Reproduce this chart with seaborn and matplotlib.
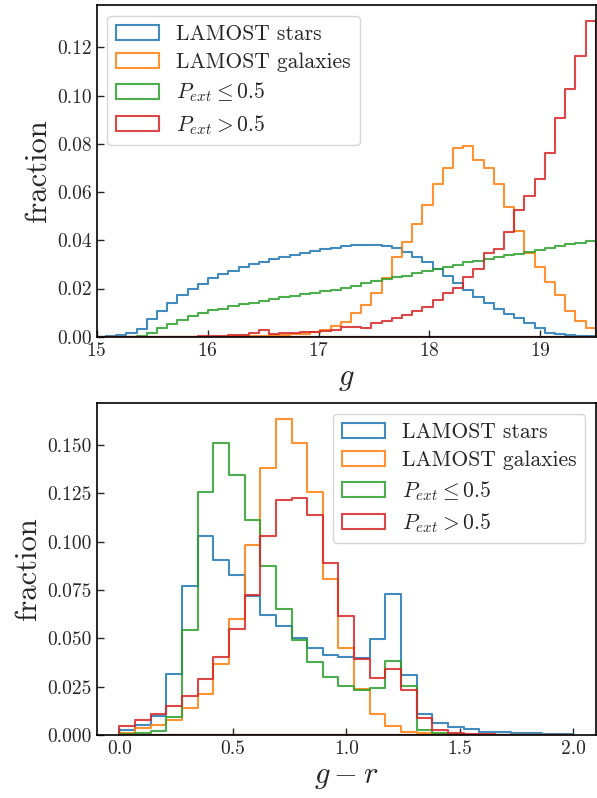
import numpy as np
import pandas as pd
import matplotlib
matplotlib.use("Agg")
import matplotlib.pyplot as plt
from matplotlib.patches import Patch
from matplotlib.colors import to_rgba
import seaborn as sns

# ---------------- data ----------------
# top panel: g magnitude, 50 bins between 14.9 and 19.5
g_edges_range = (14.9, 19.5)
g_nbins = 50
g_stars = [0.0001, 0.0001, 0.0003, 0.0007, 0.0014, 0.0032, 0.0072, 0.0105, 0.0139, 0.0172,
           0.0196, 0.0219, 0.0242, 0.0259, 0.0274, 0.0288, 0.0300, 0.0311, 0.0321, 0.0332,
           0.0340, 0.0348, 0.0356, 0.0363, 0.0369, 0.0376, 0.0379, 0.0379, 0.0379, 0.0376,
           0.0366, 0.0353, 0.0332, 0.0311, 0.0280, 0.0252, 0.0224, 0.0194, 0.0166, 0.0138,
           0.0117, 0.0094, 0.0076, 0.0055, 0.0035, 0.0017, 0.0010, 0.0006, 0.0005, 0.0003]
g_gal = [0.0, 0.0, 0.0, 0.0, 0.0, 0.0, 0.0, 0.0, 0.0, 0.0,
         0.0, 0.0, 0.0, 0.0001, 0.0002, 0.0003, 0.0004, 0.0005, 0.0006, 0.0008,
         0.0010, 0.0013, 0.0020, 0.0030, 0.0043, 0.0062, 0.0097, 0.0131, 0.0180, 0.0242,
         0.0332, 0.0394, 0.0466, 0.0546, 0.0633, 0.0698, 0.0784, 0.0792, 0.0733, 0.0698,
         0.0633, 0.0536, 0.0440, 0.0346, 0.0290, 0.0228, 0.0173, 0.0108, 0.0066, 0.0035]
g_pext_lo = [0.0, 0.0, 0.0, 0.0, 0.0, 0.0003, 0.0014, 0.0035, 0.0053, 0.0070,
             0.0085, 0.0097, 0.0110, 0.0117, 0.0127, 0.0135, 0.0142, 0.0149, 0.0157, 0.0164,
             0.0170, 0.0176, 0.0182, 0.0188, 0.0195, 0.0202, 0.0212, 0.0221, 0.0231, 0.0239,
             0.0246, 0.0253, 0.0263, 0.0272, 0.0281, 0.0290, 0.0297, 0.0308, 0.0315, 0.0323,
             0.0330, 0.0337, 0.0343, 0.0350, 0.0359, 0.0368, 0.0376, 0.0383, 0.0390, 0.0395]
g_pext_hi = [0.0, 0.0, 0.0, 0.0, 0.0, 0.0, 0.0, 0.0, 0.0, 0.0,
             0.0001, 0.0002, 0.0003, 0.0004, 0.0006, 0.0008, 0.0015, 0.0027, 0.0012, 0.0015,
             0.0017, 0.0020, 0.0021, 0.0022, 0.0027, 0.0041, 0.0041, 0.0038, 0.0058, 0.0065,
             0.0079, 0.0090, 0.0108, 0.0124, 0.0152, 0.0180, 0.0204, 0.0249, 0.0283, 0.0346,
             0.0362, 0.0435, 0.0525, 0.0583, 0.0655, 0.0760, 0.0905, 0.1026, 0.1164, 0.1310]

# bottom panel: g - r colour, 29 bins between 0 and 2
gr_edges_range = (0.0, 2.0)
gr_nbins = 29
gr_stars = [0.0026, 0.0052, 0.0100, 0.0316, 0.0769, 0.1028, 0.0907, 0.0826, 0.0721, 0.0622,
            0.0562, 0.0501, 0.0449, 0.0415, 0.0401, 0.0400, 0.0497, 0.0730, 0.0311, 0.0109,
            0.0064, 0.0043, 0.0029, 0.0018, 0.0014, 0.0010, 0.0009, 0.0007, 0.0006]
gr_gal = [0.0012, 0.0035, 0.0052, 0.0078, 0.0138, 0.0213, 0.0366, 0.0601, 0.0982, 0.1379,
          0.1633, 0.1507, 0.1258, 0.0804, 0.0449, 0.0237, 0.0109, 0.0047, 0.0017, 0.0009,
          0.0005, 0.0002, 0.0002, 0.0001, 0.0001, 0.0001, 0.0, 0.0, 0.0]
gr_pext_lo = [0.0005, 0.0012, 0.0019, 0.0095, 0.0541, 0.1256, 0.1507, 0.1346, 0.1111, 0.0873,
              0.0653, 0.0493, 0.0380, 0.0302, 0.0256, 0.0233, 0.0245, 0.0384, 0.0251, 0.0026,
              0.0009, 0.0003, 0.0001, 0.0001, 0.0, 0.0, 0.0, 0.0, 0.0]
gr_pext_hi = [0.0047, 0.0078, 0.0109, 0.0150, 0.0202, 0.0290, 0.0403, 0.0550, 0.0726, 0.1028,
              0.1215, 0.1224, 0.1135, 0.0890, 0.0617, 0.0394, 0.0294, 0.0342, 0.0233, 0.0086,
              0.0026, 0.0009, 0.0005, 0.0003, 0.0002, 0.0001, 0.0001, 0.0, 0.0]

labels = ["LAMOST stars", "LAMOST galaxies", r"$P_{ext} \leq 0.5$", r"$P_{ext} > 0.5$"]
colors = ["#1f77b4", "#ff7f0e", "#2ca02c", "#d62728"]

# ---------------- style ----------------
sns.set_style("ticks")
plt.rcParams.update({
    "font.family": ["serif"],
    "font.serif": ["cmr10", "DejaVu Serif"],
    "mathtext.fontset": "cm",
    "axes.formatter.use_mathtext": True,
    "axes.unicode_minus": False,
    "xtick.direction": "in",
    "ytick.direction": "in",
    "axes.linewidth": 1.2,
    "axes.edgecolor": "black",
})

ALPHA = 0.85


def draw_panel(ax, rng, nbins, series):
    edges = np.linspace(rng[0], rng[1], nbins + 1)
    centers = 0.5 * (edges[:-1] + edges[1:])
    for vals, col in zip(series, colors):
        df = pd.DataFrame({"x": centers, "w": np.asarray(vals, dtype=float)})
        sns.histplot(data=df, x="x", weights="w", bins=nbins, binrange=rng,
                     element="step", fill=True, facecolor="none",
                     edgecolor=to_rgba(col, ALPHA), color=col, linewidth=1.5, ax=ax)
    ymax = max(max(v) for v in series)
    ax.set_ylim(0, ymax * 1.05)
    handles = [Patch(facecolor="none", edgecolor=to_rgba(c, ALPHA), linewidth=1.5, label=l)
               for c, l in zip(colors, labels)]
    return handles


LEG = dict(fontsize=15.5, frameon=True, labelspacing=0.4, handlelength=2.0,
           handleheight=0.7, handletextpad=0.8, borderpad=0.4)

fig = plt.figure(figsize=(5.97, 7.98), dpi=100)
ax1 = fig.add_axes([0.162, 0.578, 0.836, 0.4157])
ax2 = fig.add_axes([0.162, 0.0789, 0.836, 0.4157])

h = draw_panel(ax1, g_edges_range, g_nbins, [g_stars, g_gal, g_pext_lo, g_pext_hi])
ax1.set_xlim(15, 19.5)
ax1.set_xticks([15, 16, 17, 18, 19])
ax1.set_yticks(np.arange(0, 0.121, 0.02))
ax1.yaxis.set_major_formatter(matplotlib.ticker.FormatStrFormatter("%.2f"))
ax1.set_xlabel(r"$g$", fontsize=22)
ax1.set_ylabel("fraction", fontsize=22)
ax1.legend(handles=h, loc="upper left", **LEG)

h = draw_panel(ax2, gr_edges_range, gr_nbins, [gr_stars, gr_gal, gr_pext_lo, gr_pext_hi])
ax2.set_xlim(-0.1, 2.1)
ax2.set_xticks([0.0, 0.5, 1.0, 1.5, 2.0])
ax2.xaxis.set_major_formatter(matplotlib.ticker.FormatStrFormatter("%.1f"))
ax2.set_yticks(np.arange(0, 0.151, 0.025))
ax2.yaxis.set_major_formatter(matplotlib.ticker.FormatStrFormatter("%.3f"))
ax2.set_xlabel(r"$g-r$", fontsize=22)
ax2.set_ylabel("fraction", fontsize=22)
ax2.legend(handles=h, loc="upper right", **LEG)

for ax in (ax1, ax2):
    ax.tick_params(axis="both", which="major", labelsize=14, length=5, width=1.0,
                   direction="in", top=False, right=False)

fig.savefig("out.png", dpi=100)
